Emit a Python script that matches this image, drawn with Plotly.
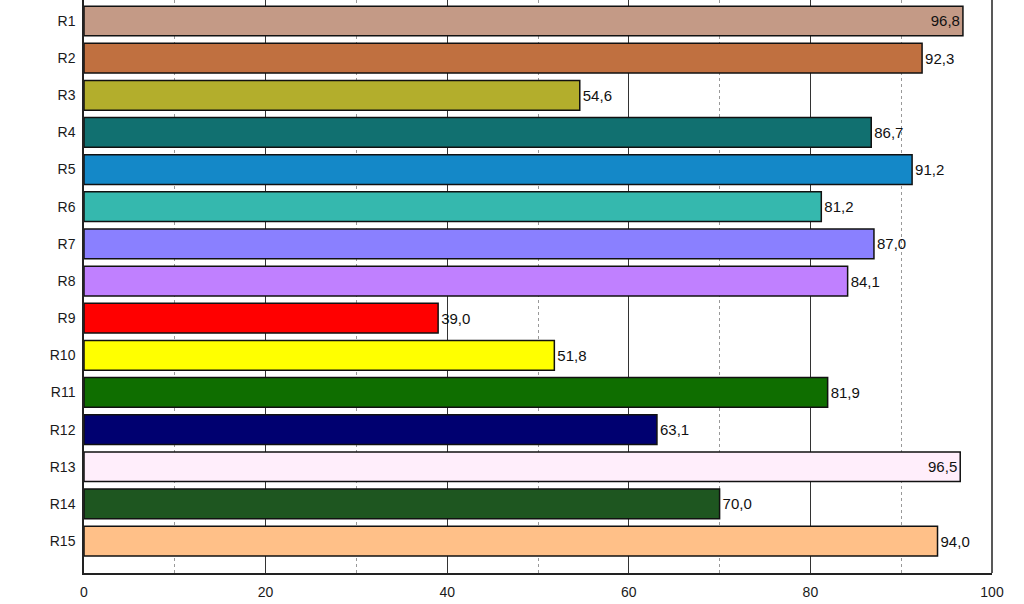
import plotly.graph_objects as go

categories = ["R1", "R2", "R3", "R4", "R5", "R6", "R7", "R8", "R9", "R10",
              "R11", "R12", "R13", "R14", "R15"]
values = [96.8, 92.3, 54.6, 86.7, 91.2, 81.2, 87.0, 84.1, 39.0, 51.8,
          81.9, 63.1, 96.5, 70.0, 94.0]
colors = ["#C49A86", "#C07040", "#B3AE2C", "#117070", "#1488C8", "#35B8AE",
          "#8A80FF", "#C080FF", "#FF0000", "#FFFF00", "#0F6E00", "#000070",
          "#FFEEFB", "#1E5620", "#FFC088"]
x_ticks = [0, 20, 40, 60, 80, 100]

positions = ["inside" if v > 95 else "outside" for v in values]
FONT = "Liberation Sans, Arial, sans-serif"

fig = go.Figure(go.Bar(
    y=categories, x=values, orientation="h",
    marker=dict(color=colors, line=dict(color="#111111", width=1.5)),
    width=0.8,
    texttemplate="%{x:.1f}",
    textposition=positions,
    insidetextanchor="end",
    textfont=dict(color="#111111", size=15, family=FONT),
    cliponaxis=False,
))

fig.update_layout(
    width=1024, height=604,
    margin=dict(l=84, r=32, t=0, b=31),
    paper_bgcolor="white", plot_bgcolor="white",
    separators=",.",
    showlegend=False,
    font=dict(family=FONT, size=14, color="#1a1a1a"),
    xaxis=dict(
        range=[0, 100], tickvals=x_ticks, ticks="", showline=True,
        linecolor="#222222", linewidth=1.5,
        showgrid=True, gridcolor="#333333", gridwidth=1,
        minor=dict(dtick=10, showgrid=True, gridcolor="#999999",
                   griddash="dot", gridwidth=1),
        zeroline=False, tickfont=dict(size=14), ticklabelstandoff=5,
    ),
    yaxis=dict(
        categoryorder="array", categoryarray=categories,
        range=[14.86, -0.565], showline=True, linecolor="#222222",
        linewidth=1.5, ticks="", showgrid=False, zeroline=False,
        ticklabelstandoff=4, tickfont=dict(size=14),
    ),
    shapes=[dict(type="line", xref="paper", yref="paper", x0=1, x1=1,
                 y0=0, y1=1, line=dict(color="#222222", width=1.5))],
)

fig.write_html("out.html")
